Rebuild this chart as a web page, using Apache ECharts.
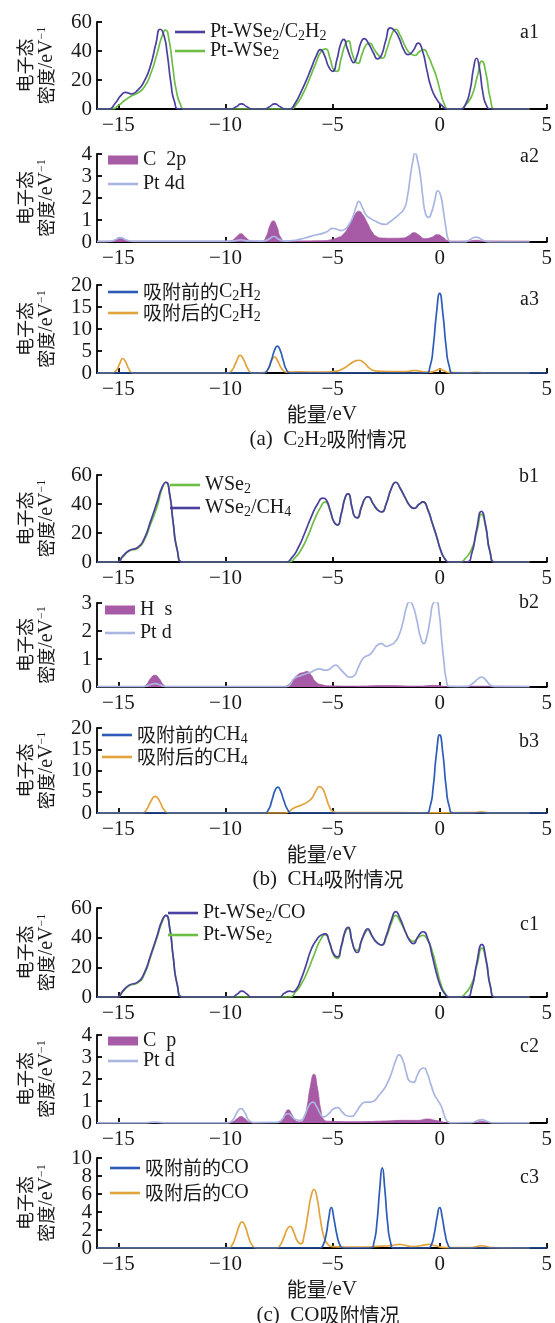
<!DOCTYPE html>
<html><head><meta charset="utf-8">
<script src="https://cdn.jsdelivr.net/npm/echarts@6/dist/echarts.min.js"></script>
<style>html,body{margin:0;padding:0;background:#fff}#c{width:555px;height:1323px}</style>
</head><body><div id="c"></div>
<script>
// ---------- tick labels ----------
const xTicks = [-15, -10, -5, 0, 5];
const yTicksDOS = [0, 20, 40, 60];
const yTicksPDOS4 = [0, 1, 2, 3, 4];
const yTicksPDOS3 = [0, 1, 2, 3];
const yTicksMol20 = [0, 5, 10, 15, 20];
const yTicksMol10 = [0, 2, 4, 6, 8, 10];

// ---------- a1 ----------
const a1_PtWSe2_C2H2 = [[-16,0],[-15.45,0],[-15.15,4],[-14.9,9],[-14.67,11.5],[-14.4,10.5],[-14.1,13],[-13.8,19],[-13.5,30],[-13.25,45],[-13.05,55],[-12.88,51],[-12.72,38],[-12.55,18],[-12.38,5],[-12.15,0],
[-9.75,0],[-9.5,1.5],[-9.26,3.5],[-9.0,1.5],[-8.75,0],[-8.2,0],[-7.95,1.5],[-7.7,3.5],[-7.45,1.5],[-7.2,0],
[-7.0,0],[-6.75,4],[-6.5,11],[-6.25,19],[-6.0,28],[-5.75,37],[-5.57,41],[-5.38,37],[-5.18,29],[-5.0,26],[-4.8,34],[-4.62,45],[-4.48,48],[-4.32,42],[-4.15,35],[-4.02,32],[-3.85,37],[-3.67,46],[-3.52,48.5],[-3.32,45],[-3.1,39],[-2.9,34.5],[-2.72,37],[-2.52,47],[-2.3,56],[-2.1,54],[-1.9,49],[-1.68,41],[-1.48,37.5],[-1.25,40],[-1.0,45.5],[-0.8,40],[-0.6,27],[-0.4,15],[-0.15,7],[0.1,2.5],[0.35,0],
[0.95,0],[1.2,3],[1.42,13],[1.58,28],[1.72,35],[1.86,28],[2.02,11],[2.2,2],[2.4,0],[4.2,0]];
const a1_PtWSe2 = [[-16,0],[-15.3,0],[-15.0,2.5],[-14.7,6],[-14.4,9],[-14.1,11],[-13.8,15],[-13.5,24],[-13.2,38],[-12.97,50],[-12.8,54.5],[-12.63,47],[-12.47,30],[-12.3,13],[-12.1,3],[-11.9,0],
[-6.95,0],[-6.7,3],[-6.4,10],[-6.1,20],[-5.8,31],[-5.52,40],[-5.33,41.5],[-5.12,35],[-4.95,27],[-4.8,26],[-4.6,35],[-4.4,45],[-4.26,47],[-4.1,39],[-3.95,33],[-3.82,31.5],[-3.62,38],[-3.42,44.5],[-3.28,45.5],[-3.05,41],[-2.85,37],[-2.68,35],[-2.47,41],[-2.25,51],[-2.05,55],[-1.85,51],[-1.6,43],[-1.35,38],[-1.15,37],[-0.95,39.5],[-0.74,41],[-0.55,37],[-0.35,30],[-0.15,22],[0.05,11],[0.2,4],[0.4,0],
[0.95,0],[1.2,2.5],[1.5,9],[1.75,22],[1.97,33],[2.17,24],[2.37,7],[2.6,0],[4.2,0]];

// ---------- a2 ----------
const a2_C2p = [[-16,0.04],[-15.4,0.04],[-15.15,0.08],[-14.9,0.17],[-14.65,0.08],[-14.4,0.04],[-10,0.04],[-9.75,0.06],[-9.5,0.22],[-9.28,0.37],[-9.05,0.2],[-8.8,0.05],[-8.3,0.04],[-8.1,0.25],[-7.92,0.75],[-7.77,0.96],[-7.6,0.7],[-7.42,0.2],[-7.2,0.05],[-5.4,0.06],[-5.1,0.1],[-4.8,0.18],[-4.5,0.35],[-4.2,0.8],[-3.95,1.25],[-3.78,1.4],[-3.6,1.25],[-3.37,0.85],[-3.15,0.45],[-2.95,0.25],[-2.7,0.18],[-2.2,0.17],[-1.7,0.18],[-1.45,0.28],[-1.2,0.42],[-0.95,0.3],[-0.7,0.15],[-0.4,0.2],[-0.1,0.33],[0.15,0.22],[0.4,0.06],[0.7,0.04],[1.4,0.05],[1.72,0.08],[2.0,0.05],[4.2,0.04]];
const a2_Pt4d = [[-16,0.02],[-15.4,0.03],[-15.15,0.1],[-14.9,0.2],[-14.65,0.1],[-14.3,0.03],[-10,0.03],[-9.6,0.05],[-9.28,0.1],[-9.0,0.05],[-8.3,0.04],[-8.0,0.12],[-7.75,0.25],[-7.5,0.12],[-7.2,0.04],[-6.9,0.06],[-6.5,0.13],[-6.15,0.22],[-5.8,0.32],[-5.5,0.38],[-5.25,0.48],[-5.0,0.62],[-4.8,0.58],[-4.6,0.52],[-4.4,0.6],[-4.2,0.85],[-4.03,1.2],[-3.9,1.6],[-3.78,1.85],[-3.62,1.6],[-3.45,1.25],[-3.2,1.05],[-3.0,0.95],[-2.8,0.85],[-2.55,0.8],[-2.35,0.9],[-2.14,1.05],[-1.9,1.25],[-1.64,1.55],[-1.5,2.1],[-1.38,2.9],[-1.25,3.7],[-1.15,4.05],[-1.03,3.7],[-0.9,3.0],[-0.78,2.0],[-0.66,1.3],[-0.52,1.12],[-0.38,1.35],[-0.25,1.8],[-0.08,2.33],[0.05,2.1],[0.16,1.5],[0.3,0.6],[0.41,0.1],[0.58,0.0],[1.1,0.0],[1.35,0.07],[1.55,0.18],[1.72,0.22],[1.9,0.15],[2.15,0.03],[2.4,0.0],[4.2,0.0]];

// ---------- a3 ----------
const a3_before = [[-16,0],[-8.25,0],[-8.05,0.6],[-7.85,3.0],[-7.7,5.3],[-7.58,6.1],[-7.45,5.2],[-7.3,2.8],[-7.15,0.7],[-6.95,0],[-0.65,0],[-0.45,1.5],[-0.3,6],[-0.15,13.5],[0,18.1],[0.15,13.5],[0.3,6],[0.45,1.5],[0.65,0],[5,0]];
const a3_after = [[-16,0],[-15.3,0],[-15.1,0.6],[-14.95,2.0],[-14.8,3.3],[-14.65,2.4],[-14.5,0.8],[-14.3,0],[-9.9,0],[-9.7,0.6],[-9.5,2.5],[-9.31,4.0],[-9.15,3.0],[-8.95,0.9],[-8.75,0],[-8.2,0.1],[-8.0,1.0],[-7.85,2.8],[-7.71,3.6],[-7.55,2.6],[-7.38,1.0],[-7.15,0.2],[-6.6,0.25],[-5.5,0.2],[-4.9,0.35],[-4.5,1.0],[-4.2,2.0],[-3.9,2.8],[-3.78,2.9],[-3.55,2.4],[-3.25,1.0],[-2.95,0.45],[-2.6,0.35],[-1.6,0.3],[-1.3,0.5],[-1.07,0.55],[-0.85,0.3],[-0.5,0.2],[-0.2,0.5],[0.0,0.9],[0.2,0.5],[0.45,0.1],[1.3,0.05],[1.7,0.15],[2.1,0.05],[4.2,0]];

// ---------- b1 ----------
const b1_WSe2 = [[-16,0],[-15.05,0],[-14.8,3.5],[-14.5,7.5],[-14.1,9.5],[-13.8,15],[-13.5,26],[-13.2,38],[-12.95,51],[-12.78,55],[-12.6,46],[-12.45,28],[-12.25,8],[-12.0,0],
[-7.05,0],[-6.75,3],[-6.45,9],[-6.15,18],[-5.85,29],[-5.55,38],[-5.35,41.5],[-5.15,37],[-4.95,28],[-4.77,25.5],[-4.6,33],[-4.4,45],[-4.27,47],[-4.1,38],[-3.95,31],[-3.85,30.5],[-3.65,38],[-3.45,44.5],[-3.35,45],[-3.1,40],[-2.9,36],[-2.7,34.5],[-2.5,40],[-2.25,51],[-2.05,55],[-1.85,51],[-1.6,44],[-1.4,39],[-1.2,37],[-0.95,40],[-0.78,41.5],[-0.55,36],[-0.35,27],[-0.15,18],[0.05,8],[0.25,2],[0.45,0],
[0.95,0],[1.2,2.5],[1.5,9],[1.75,22],[1.95,33],[2.15,24],[2.35,7],[2.6,0],[4.2,0]];
const b1_WSe2_CH4 = [[-16,0],[-15.05,0],[-14.8,4],[-14.5,8],[-14.1,10],[-13.8,16],[-13.5,28],[-13.2,41],[-12.95,52],[-12.78,55],[-12.6,46],[-12.45,28],[-12.25,8],[-12.0,0],
[-7.2,0],[-6.9,3],[-6.6,10],[-6.3,20],[-6.0,31],[-5.7,40],[-5.45,44],[-5.3,43],[-5.1,35],[-4.93,27.5],[-4.77,25.5],[-4.6,33],[-4.4,45],[-4.27,47],[-4.1,38],[-3.95,31],[-3.85,30.5],[-3.65,38],[-3.45,44.5],[-3.35,45],[-3.1,40],[-2.9,36],[-2.7,34.5],[-2.5,40],[-2.25,51],[-2.05,55],[-1.85,51],[-1.6,44],[-1.4,39],[-1.2,37],[-0.95,40],[-0.78,41.5],[-0.55,36],[-0.35,27],[-0.15,18],[0.05,8],[0.25,2],[0.45,0],
[1.25,0],[1.5,6],[1.72,22],[1.95,35],[2.15,25],[2.35,7],[2.6,0],[4.2,0]];

// ---------- b2 ----------
const b2_Hs = [[-16,0.02],[-13.9,0.02],[-13.7,0.08],[-13.5,0.3],[-13.3,0.42],[-13.1,0.3],[-12.9,0.08],[-12.7,0.02],[-7.3,0.02],[-7.1,0.06],[-6.85,0.25],[-6.6,0.45],[-6.35,0.52],[-6.2,0.55],[-6.0,0.42],[-5.8,0.2],[-5.5,0.08],[-5.1,0.04],[-4.0,0.03],[-2.5,0.05],[-1.0,0.03],[-0.2,0.06],[0.3,0.02],[1.9,0.03],[4.2,0.02]];
const b2_Ptd = [[-16,0.01],[-13.9,0.01],[-13.6,0.06],[-13.3,0.12],[-13.0,0.06],[-12.7,0.01],[-7.2,0.01],[-7.0,0.08],[-6.8,0.3],[-6.5,0.4],[-6.2,0.48],[-5.95,0.55],[-5.75,0.63],[-5.59,0.65],[-5.38,0.6],[-5.18,0.62],[-5.0,0.73],[-4.85,0.78],[-4.65,0.65],[-4.44,0.48],[-4.2,0.35],[-4.0,0.4],[-3.8,0.7],[-3.6,1.0],[-3.45,1.1],[-3.28,1.15],[-3.1,1.3],[-2.9,1.5],[-2.71,1.55],[-2.5,1.45],[-2.3,1.5],[-2.1,1.6],[-1.9,1.85],[-1.72,2.3],[-1.55,2.85],[-1.4,3.05],[-1.25,2.9],[-1.07,2.4],[-0.9,1.8],[-0.74,1.55],[-0.6,1.8],[-0.45,2.4],[-0.3,3.0],[-0.16,3.05],[-0.02,2.6],[0.08,1.8],[0.2,0.9],[0.3,0.3],[0.45,0.02],[1.2,0.01],[1.5,0.1],[1.8,0.3],[1.97,0.35],[2.15,0.25],[2.4,0.05],[2.6,0.01],[4.2,0.01]];

// ---------- b3 ----------
const b3_before = [[-16,0],[-8.2,0],[-8.0,0.7],[-7.82,3.2],[-7.68,5.4],[-7.56,6.1],[-7.44,5.3],[-7.28,3.0],[-7.1,0.8],[-6.9,0],[-0.65,0],[-0.45,1.5],[-0.3,6.2],[-0.15,14],[0,18.4],[0.15,14],[0.3,6.2],[0.45,1.5],[0.65,0],[5,0]];
const b3_after = [[-16,0],[-13.9,0],[-13.7,0.7],[-13.5,2.6],[-13.28,3.9],[-13.08,2.8],[-12.88,0.8],[-12.65,0],[-7.2,0],[-7.0,0.5],[-6.8,1.2],[-6.6,1.6],[-6.35,2.1],[-6.12,2.8],[-5.95,3.6],[-5.78,5.2],[-5.6,6.2],[-5.45,5.6],[-5.3,3.6],[-5.15,1.5],[-5.0,0.4],[-4.8,0.1],[-2,0.08],[0,0.05],[1.6,0.1],[1.9,0.25],[2.2,0.1],[2.5,0],[4.2,0]];

// ---------- c1 ----------
const c1_PtWSe2_CO = [[-16,0],[-15.05,0],[-14.8,4],[-14.5,8],[-14.1,10],[-13.8,16],[-13.5,28],[-13.2,41],[-12.95,52],[-12.78,55],[-12.6,46],[-12.45,28],[-12.25,8],[-12.0,0],
[-9.7,0],[-9.45,2],[-9.24,4],[-9.0,2],[-8.8,0],[-7.5,0],[-7.25,2.5],[-7.0,4],[-6.85,3.5],[-6.7,5],[-6.5,11],[-6.25,21],[-6.0,32],[-5.75,38.5],[-5.5,42],[-5.34,42.5],[-5.15,37],[-4.95,29],[-4.77,27],[-4.6,34],[-4.4,45],[-4.27,47],[-4.1,38],[-3.95,31],[-3.85,30],[-3.65,38],[-3.45,45],[-3.37,46],[-3.15,41],[-2.95,37],[-2.71,35],[-2.5,41],[-2.25,52],[-2.05,57.5],[-1.85,53],[-1.6,44],[-1.4,38],[-1.23,36],[-1.0,41],[-0.78,44],[-0.55,39],[-0.35,28],[-0.15,16],[0.05,7],[0.25,2],[0.45,0],
[1.25,0],[1.5,6],[1.72,22],[1.97,35.5],[2.17,25],[2.37,7],[2.6,0],[4.2,0]];
const c1_PtWSe2 = [[-16,0],[-15.05,0],[-14.8,3.5],[-14.5,7.5],[-14.1,9.5],[-13.8,15],[-13.5,27],[-13.2,40],[-12.95,51],[-12.78,55],[-12.6,46],[-12.45,28],[-12.25,8],[-12.0,0],
[-7.0,0],[-6.75,3],[-6.45,9],[-6.15,18],[-5.85,29],[-5.55,39],[-5.34,42],[-5.15,37],[-4.95,28],[-4.77,26],[-4.6,33],[-4.4,44],[-4.27,46],[-4.1,38],[-3.95,32],[-3.85,31.5],[-3.65,38],[-3.45,44],[-3.37,45],[-3.15,41],[-2.95,37],[-2.71,35],[-2.5,40],[-2.25,50],[-2.05,55],[-1.85,51],[-1.6,44],[-1.38,38.5],[-1.23,37.5],[-1.0,40],[-0.78,41.5],[-0.55,38],[-0.35,31],[-0.15,20],[0.05,9],[0.25,2.5],[0.45,0],
[0.95,0],[1.2,2.5],[1.5,9],[1.75,22],[1.97,33],[2.17,24],[2.37,7],[2.6,0],[4.2,0]];

// ---------- c2 ----------
const c2_Cp = [[-16,0.01],[-9.85,0.01],[-9.65,0.06],[-9.45,0.2],[-9.28,0.3],[-9.1,0.2],[-8.9,0.05],[-8.7,0.01],[-7.5,0.01],[-7.35,0.12],[-7.2,0.45],[-7.07,0.6],[-6.92,0.42],[-6.75,0.12],[-6.55,0.05],[-6.35,0.15],[-6.2,0.7],[-6.05,1.6],[-5.87,2.22],[-5.7,1.55],[-5.55,0.6],[-5.4,0.15],[-5.2,0.08],[-4,0.06],[-2.5,0.09],[-1.7,0.12],[-1.0,0.12],[-0.58,0.18],[-0.2,0.12],[0.15,0.05],[0.4,0.01],[1.6,0.02],[1.97,0.08],[2.3,0.02],[4.2,0.01]];
const c2_Ptd = [[-16,0.01],[-13.7,0.01],[-13.3,0.04],[-12.9,0.01],[-9.9,0.01],[-9.65,0.15],[-9.45,0.5],[-9.28,0.65],[-9.1,0.48],[-8.9,0.12],[-8.6,0.02],[-7.6,0.03],[-7.35,0.18],[-7.2,0.38],[-7.07,0.42],[-6.9,0.3],[-6.7,0.15],[-6.49,0.12],[-6.3,0.35],[-6.1,0.8],[-5.92,0.95],[-5.75,0.75],[-5.55,0.38],[-5.43,0.28],[-5.2,0.4],[-4.95,0.65],[-4.77,0.7],[-4.55,0.5],[-4.3,0.32],[-4.11,0.3],[-3.9,0.5],[-3.65,0.85],[-3.45,0.95],[-3.25,0.95],[-3.04,1.02],[-2.85,1.25],[-2.63,1.5],[-2.4,1.9],[-2.22,2.35],[-2.05,2.85],[-1.89,3.1],[-1.72,2.85],[-1.56,2.3],[-1.4,1.9],[-1.23,1.85],[-1.05,2.15],[-0.88,2.45],[-0.74,2.5],[-0.58,2.25],[-0.41,1.75],[-0.25,1.3],[-0.1,1.05],[0.08,0.75],[0.2,0.4],[0.33,0.1],[0.5,0.01],[1.5,0.02],[1.75,0.1],[1.97,0.15],[2.2,0.08],[2.5,0.01],[4.2,0.01]];

// ---------- c3 ----------
const c3_before = [[-16,0],[-5.6,0],[-5.45,0.3],[-5.3,1.5],[-5.18,3.3],[-5.06,4.5],[-4.94,3.3],[-4.8,1.5],[-4.65,0.3],[-4.5,0],[-3.22,0],[-3.07,0.6],[-2.93,2.8],[-2.8,6.5],[-2.68,8.9],[-2.56,6.5],[-2.43,2.8],[-2.29,0.6],[-2.14,0],[-0.55,0],[-0.4,0.3],[-0.26,1.5],[-0.12,3.4],[0,4.5],[0.12,3.4],[0.26,1.5],[0.4,0.3],[0.55,0],[5,0]];
const c3_after = [[-16,0],[-9.85,0],[-9.7,0.3],[-9.52,1.3],[-9.37,2.4],[-9.23,2.9],[-9.08,2.4],[-8.92,1.2],[-8.75,0.3],[-8.55,0],[-7.6,0],[-7.45,0.3],[-7.27,1.2],[-7.12,2.1],[-6.98,2.4],[-6.82,1.8],[-6.65,0.8],[-6.49,0.45],[-6.32,1.5],[-6.15,3.8],[-6.0,5.8],[-5.87,6.5],[-5.73,5.6],[-5.57,3.2],[-5.4,1.2],[-5.22,0.4],[-5.0,0.15],[-4.0,0.1],[-2.68,0.2],[-2.2,0.3],[-1.89,0.4],[-1.6,0.3],[-1.3,0.15],[-0.9,0.25],[-0.49,0.4],[-0.2,0.25],[0.25,0.05],[1.5,0.05],[1.97,0.25],[2.4,0.05],[4.2,0]];

// ---------- labels ----------
const panelNames = ['a1','a2','a3','b1','b2','b3','c1','c2','c3'];
const captions = ['(a)  C{s|2}H{s|2}{c|吸附情况}', '(b)  CH{s|4}{c|吸附情况}', '(c)  CO{c|吸附情况}'];
const legendText = {
  a1p:'Pt-WSe{s|2}/C{s|2}H{s|2}', a1g:'Pt-WSe{s|2}', a2f:'C  2p', a2l:'Pt 4d',
  a3b:'{c|吸附前的}C{s|2}H{s|2}', a3o:'{c|吸附后的}C{s|2}H{s|2}',
  b1g:'WSe{s|2}', b1p:'WSe{s|2}/CH{s|4}', b2f:'H  s', b2l:'Pt d',
  b3b:'{c|吸附前的}CH{s|4}', b3o:'{c|吸附后的}CH{s|4}',
  c1p:'Pt-WSe{s|2}/CO', c1g:'Pt-WSe{s|2}', c2f:'C  p', c2l:'Pt d',
  c3b:'{c|吸附前的}CO', c3o:'{c|吸附后的}CO'
};

// ---------- layout & style ----------
const FONT = "'Liberation Serif','Noto Sans CJK SC',serif";
const CJK = "'Noto Sans CJK SC',sans-serif";
const TXT = '#1a1a1a';
const RICH = {
  s:{fontSize:14, lineHeight:14, verticalAlign:'bottom', fontFamily:FONT, color:TXT},
  u:{fontSize:12, lineHeight:12, verticalAlign:'top', fontFamily:FONT, color:TXT},
  c:{fontSize:19, fontFamily:CJK, color:TXT},
  k:{fontSize:18, fontFamily:CJK, color:TXT}
};
const CAPRICH = {
  s:{fontSize:14, lineHeight:14, verticalAlign:'bottom', fontFamily:FONT, color:TXT},
  c:{fontSize:20, fontFamily:CJK, color:TXT}
};
const COL = {pur:'#4b3f9f', grn:'#6cbf45', fill:'#a75aa5', lav:'#a9b6e2', blu:'#2c5cb8', org:'#e2a33d'};
const GL = 97, GR = 5;
const grids = [
  {top:22, h:87, ticks:yTicksDOS},
  {top:154,h:88, ticks:yTicksPDOS4},
  {top:285,h:88, ticks:yTicksMol20},
  {top:475,h:87, ticks:yTicksDOS},
  {top:603,h:84, ticks:yTicksPDOS3},
  {top:728,h:85, ticks:yTicksMol20},
  {top:908,h:89, ticks:yTicksDOS},
  {top:1035,h:88,ticks:yTicksPDOS4},
  {top:1158,h:90,ticks:yTicksMol10}
];
const fmtNum = v => v < 0 ? '\u2212' + (-v) : String(v);
const axLine = {show:true, onZero:false, lineStyle:{color:'#000', width:1.8}};
const yLabelBase = {color:TXT, fontSize:21, fontFamily:FONT, margin:5, formatter:fmtNum, showMinLabel:true, showMaxLabel:true, hideOverlap:false};

const option = {
  animation:false,
  backgroundColor:'#fff',
  grid: grids.map(g => ({left:GL, right:GR, top:g.top, height:g.h, containLabel:false})),
  xAxis: grids.map((g,i) => ({
    type:'value', gridIndex:i, min:-16, max:5,
    axisLine:axLine,
    axisTick:{show:true, inside:true, length:5, lineStyle:{color:'#000', width:1.8}, customValues:xTicks},
    axisLabel:{color:TXT, fontSize:21, fontFamily:FONT, margin:6, formatter:fmtNum, customValues:xTicks, showMinLabel:true, showMaxLabel:true, hideOverlap:false},
    splitLine:{show:false},
    name:(i % 3 === 2) ? '{c|能量}/eV' : '', nameLocation:'middle', nameGap:31,
    nameTextStyle:{color:TXT, fontSize:21, fontFamily:FONT, rich:{c:{fontSize:20, fontFamily:CJK, color:TXT}}}
  })),
  yAxis: grids.map((g,i) => {
    // the crowded 0–10 axis shows every other label here; the rest come from a twin axis below
    const lab = (i === 8) ? g.ticks.filter((v,k) => k % 2 === 0) : g.ticks;
    return {
      type:'value', gridIndex:i, min:0, max:g.ticks[g.ticks.length-1],
      axisLine:axLine,
      axisTick:{show:true, inside:true, length:5, lineStyle:{color:'#000', width:1.8}, customValues:g.ticks},
      axisLabel:Object.assign({customValues:lab}, yLabelBase),
      splitLine:{show:false},
      name:'{k|电子态}\n{k|密度}/eV{u|−1}', nameLocation:'middle', nameRotate:90, nameGap:40,
      nameTextStyle:{color:TXT, fontSize:20, lineHeight:21, fontFamily:FONT, rich:RICH}
    };
  }),
  series: [],
  legend: [],
  title: []
};
// twin axis on the c3 grid carrying the remaining tick labels
option.yAxis.push({
  type:'value', gridIndex:8, min:0, max:yTicksMol10[yTicksMol10.length-1], position:'left', offset:0,
  axisLine:{show:false}, axisTick:{show:false}, splitLine:{show:false},
  axisLabel:Object.assign({customValues:yTicksMol10.filter((v,k) => k % 2 === 1)}, yLabelBase)
});

function addLine(key, data, gi, color, fill) {
  const s = {
    name:key, type:'line', xAxisIndex:gi, yAxisIndex:gi, data:data,
    symbol:'none', smooth:0.6,
    lineStyle:{color:color, width: fill ? 0.8 : 1.7}, itemStyle:{color:color},
    z: fill ? 2 : 3
  };
  if (fill) s.areaStyle = {color:color, opacity:1};
  option.series.push(s);
}
addLine('a1g', a1_PtWSe2, 0, COL.grn);
addLine('a1p', a1_PtWSe2_C2H2, 0, COL.pur);
addLine('a2f', a2_C2p, 1, COL.fill, true);
addLine('a2l', a2_Pt4d, 1, COL.lav);
addLine('a3o', a3_after, 2, COL.org);
addLine('a3b', a3_before, 2, COL.blu);
addLine('b1g', b1_WSe2, 3, COL.grn);
addLine('b1p', b1_WSe2_CH4, 3, COL.pur);
addLine('b2f', b2_Hs, 4, COL.fill, true);
addLine('b2l', b2_Ptd, 4, COL.lav);
addLine('b3o', b3_after, 5, COL.org);
addLine('b3b', b3_before, 5, COL.blu);
addLine('c1g', c1_PtWSe2, 6, COL.grn);
addLine('c1p', c1_PtWSe2_CO, 6, COL.pur);
addLine('c2f', c2_Cp, 7, COL.fill, true);
addLine('c2l', c2_Ptd, 7, COL.lav);
addLine('c3o', c3_after, 8, COL.org);
addLine('c3b', c3_before, 8, COL.blu);

// legend rows: [key, left, centerY, isRect]
const legendRows = [
  ['a1p',175,32,false],['a1g',175,51,false],
  ['a2f',108,160,true],['a2l',108,184,false],
  ['a3b',108,292,false],['a3o',108,313,false],
  ['b1g',170,485,false],['b1p',170,508,false],
  ['b2f',105,610,true],['b2l',105,633,false],
  ['b3b',102,735,false],['b3o',102,757,false],
  ['c1p',168,913,false],['c1g',168,935,false],
  ['c2f',108,1041,true],['c2l',108,1061,false],
  ['c3b',110,1168,false],['c3o',110,1193,false]
];
legendRows.forEach(r => {
  option.legend.push({
    data:[{name:r[0], icon:'rect'}], left:r[1], top:r[2]-11, orient:'vertical', padding:0,
    itemWidth:30, itemHeight: r[3] ? 9 : 2.6, itemGap:0, selectedMode:false,
    textStyle:{color:TXT, fontSize:20, lineHeight:22, fontFamily:FONT, rich:RICH},
    formatter: n => legendText[n]
  });
});

const panelY = [33,157,300,477,603,742,925,1047,1178];
panelNames.forEach((t,i) => {
  option.title.push({text:t, right:16, top:panelY[i]-11, padding:0,
    textStyle:{color:TXT, fontSize:20, fontWeight:'normal', fontFamily:FONT, lineHeight:22}});
});
const capY = [439,879,1315];
captions.forEach((t,i) => {
  option.title.push({text:t, left:328, textAlign:'center', top:capY[i]-11, padding:0,
    textStyle:{color:TXT, fontSize:21, fontWeight:'normal', fontFamily:FONT, lineHeight:22, rich:CAPRICH}});
});

const chart = echarts.init(document.getElementById('c'), null, {renderer:'canvas'});
chart.setOption(option);
</script></body></html>
